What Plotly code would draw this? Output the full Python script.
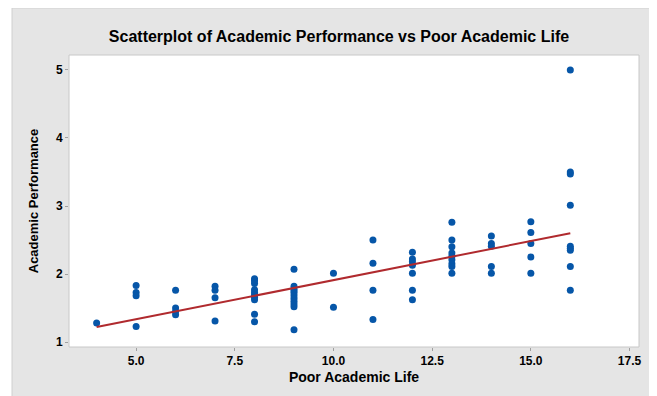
import plotly.graph_objects as go

# Data
poor_life = (
    [4]
    + [5] * 4
    + [6] * 4
    + [7] * 4
    + [8] * 10
    + [9] * 11
    + [10] * 2
    + [11] * 4
    + [12] * 7
    + [13] * 9
    + [14] * 5
    + [15] * 5
    + [16] * 9
)
performance = (
    [1.28]
    + [1.83, 1.73, 1.68, 1.23]
    + [1.76, 1.50, 1.45, 1.40]
    + [1.82, 1.76, 1.65, 1.31]
    + [1.93, 1.90, 1.86, 1.77, 1.73, 1.69, 1.66, 1.62, 1.41, 1.30]
    + [2.07, 1.82, 1.78, 1.75, 1.72, 1.68, 1.64, 1.60, 1.56, 1.52, 1.18]
    + [2.01, 1.51]
    + [2.50, 2.16, 1.76, 1.33]
    + [2.32, 2.22, 2.18, 2.13, 2.01, 1.76, 1.62]
    + [2.76, 2.50, 2.40, 2.31, 2.26, 2.21, 2.15, 2.11, 2.01]
    + [2.56, 2.45, 2.41, 2.11, 2.01]
    + [2.77, 2.61, 2.45, 2.25, 2.01]
    + [5.00, 3.50, 3.47, 3.01, 2.41, 2.38, 2.35, 2.11, 1.76]
)
fit_x = [4, 16]
fit_y = [1.22, 2.60]

x_ticks = [5.0, 7.5, 10.0, 12.5, 15.0, 17.5]
x_tick_labels = ["5.0", "7.5", "10.0", "12.5", "15.0", "17.5"]
y_ticks = [1, 2, 3, 4, 5]

FONT = "Liberation Sans, Arial, sans-serif"

fig = go.Figure()
fig.add_trace(go.Scatter(
    x=poor_life, y=performance, mode="markers",
    marker=dict(size=7, color="#0656A8"),
    hoverinfo="x+y", showlegend=False,
))
fig.add_trace(go.Scatter(
    x=fit_x, y=fit_y, mode="lines",
    line=dict(color="#B02A2E", width=2),
    showlegend=False,
))

# Gray background panel and white plot area
fig.add_shape(type="rect", xref="paper", yref="paper",
              x0=-0.1, x1=1.0228, y0=-0.25, y1=1.161,
              fillcolor="#E5E5E5", line=dict(color="#D0D0D0", width=1), layer="below")
fig.add_shape(type="rect", xref="paper", yref="paper",
              x0=0, x1=1, y0=0, y1=1,
              fillcolor="white", line=dict(color="#C8C8C8", width=1), layer="below")

W, H = 649, 388
fig.update_layout(
    width=W, height=H,
    margin=dict(l=61, r=18, t=47, b=49, autoexpand=False),
    paper_bgcolor="white",
    plot_bgcolor="rgba(0,0,0,0)",
    title=dict(
        text="Scatterplot of Academic Performance vs Poor Academic Life",
        font=dict(family=FONT, size=16, color="black", weight="bold"),
        x=331 / W, xanchor="center", y=1 - 28 / H, yanchor="middle",
        automargin=False,
    ),
    font=dict(family=FONT, color="black"),
)
fig.update_xaxes(
    range=[3.30, 17.74], tickvals=x_ticks, ticktext=x_tick_labels,
    showgrid=False, zeroline=False, showline=False, automargin=False,
    ticks="outside", ticklen=3, tickcolor="#A0A0A0",
    tickfont=dict(family=FONT, size=12, color="black", weight="bold"),
    title=dict(text="Poor Academic Life", standoff=4,
               font=dict(family=FONT, size=14, color="black", weight="bold")),
)
fig.update_yaxes(
    range=[0.927, 5.22], tickvals=y_ticks,
    showgrid=False, zeroline=False, showline=False, automargin=False,
    ticks="outside", ticklen=3, tickcolor="#A0A0A0",
    tickfont=dict(family=FONT, size=12, color="black", weight="bold"),
    title=dict(text="Academic Performance", standoff=14,
               font=dict(family=FONT, size=13, color="black", weight="bold")),
)

fig.write_html("out.html")
